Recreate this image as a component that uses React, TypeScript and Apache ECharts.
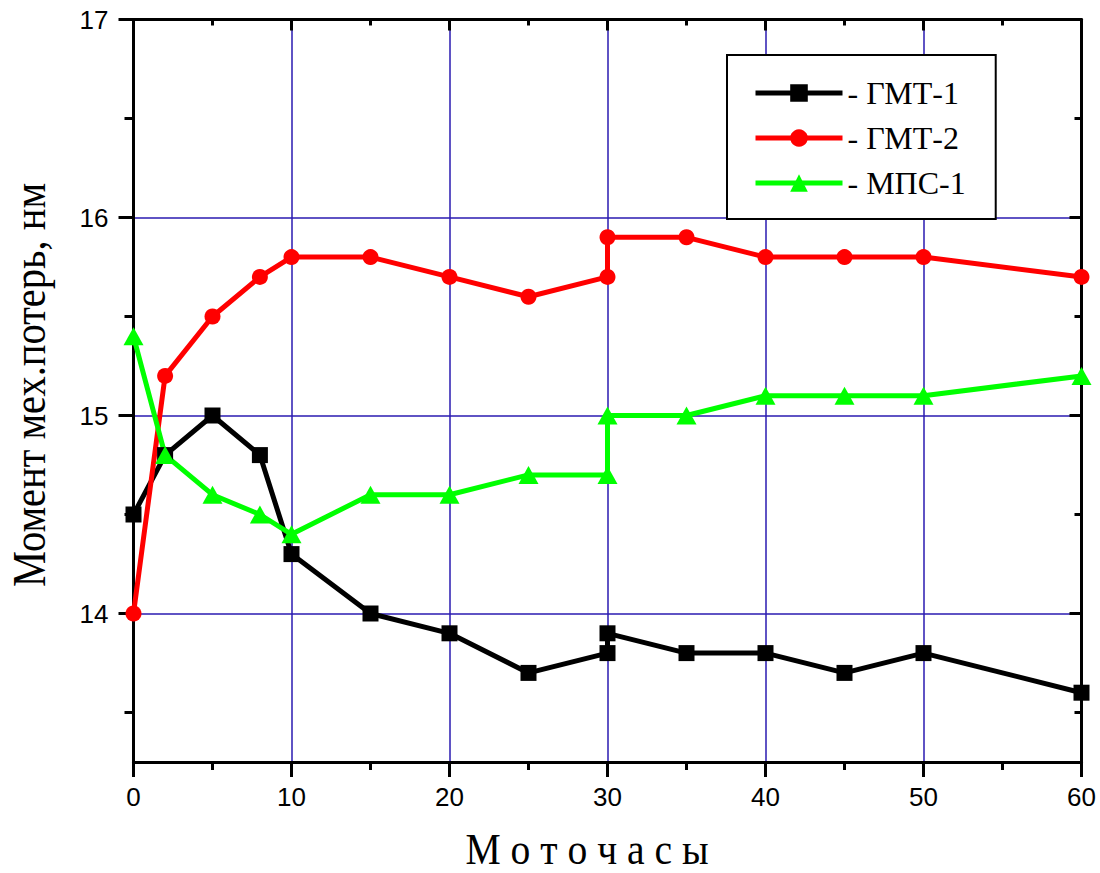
import React, { useEffect, useRef } from "react";
import * as echarts from "echarts";

const hours = [0, 2, 5, 8, 10, 15, 20, 25, 30, 30, 35, 40, 45, 50, 60];
const gmt1 = [14.5, 14.8, 15.0, 14.8, 14.3, 14.0, 13.9, 13.7, 13.8, 13.9, 13.8, 13.8, 13.7, 13.8, 13.6];
const gmt2 = [14.0, 15.2, 15.5, 15.7, 15.8, 15.8, 15.7, 15.6, 15.7, 15.9, 15.9, 15.8, 15.8, 15.8, 15.7];
const mps1 = [15.4, 14.8, 14.6, 14.5, 14.4, 14.6, 14.6, 14.7, 14.7, 15.0, 15.0, 15.1, 15.1, 15.1, 15.2];

const seriesNames = ["ГМТ-1", "ГМТ-2", "МПС-1"];
const yMajor = [14, 15, 16, 17];
const yMinor = [13.5, 14.5, 15.5, 16.5];
const xTitle = "М о т о ч а с ы";
const yTitle = "Момент мех.потерь, нм";

const pairs = (ys: number[]) => hours.map((h, i) => [h, ys[i]]);

export default function App() {
  const ref = useRef<HTMLDivElement>(null);
  useEffect(() => {
    const chart = echarts.init(ref.current!, null, { renderer: "svg" });
    const black = "#000";
    const grid = "#2a1ab0";
    const axisBase = {
      type: "value" as const,
      axisLine: { show: true, onZero: false, lineStyle: { color: black, width: 3 } },
    };
    const xCommon = { ...axisBase, min: 0, max: 60, interval: 10 };
    const yCommon = { ...axisBase, min: 13.25, max: 17 };
    chart.setOption({
      animation: false,
      backgroundColor: "#fff",
      grid: { left: 133.5, right: 18.5, top: 19.5, bottom: 111, outerBoundsMode: "none" },
      xAxis: [
        {
          ...xCommon,
          position: "bottom",
          axisTick: { show: true, length: 15, lineStyle: { color: black, width: 3 } },
          minorTick: { show: true, splitNumber: 2, length: 8, lineStyle: { color: black, width: 3 } },
          axisLabel: { fontSize: 26, fontFamily: "Liberation Sans", color: black, margin: 22 },
          splitLine: { show: true, lineStyle: { color: grid, width: 1.5 } },
        },
        {
          ...xCommon,
          position: "top",
          axisTick: { show: true, inside: true, length: 11, lineStyle: { color: black, width: 3 } },
          minorTick: { show: true, splitNumber: 2, length: 6, lineStyle: { color: black, width: 3 } },
          axisLabel: { show: false },
          splitLine: { show: false },
        },
      ],
      yAxis: [
        {
          ...yCommon,
          position: "left",
          axisTick: { show: true, length: 15, customValues: yMajor, lineStyle: { color: black, width: 3 } },
          axisLabel: { customValues: yMajor, fontSize: 26, fontFamily: "Liberation Sans", color: black, margin: 25 },
          splitLine: { show: true, lineStyle: { color: grid, width: 1.5 } },
        },
        {
          ...yCommon,
          position: "left",
          axisLine: { show: false, onZero: false },
          axisTick: { show: true, length: 9, customValues: yMinor, lineStyle: { color: black, width: 3 } },
          axisLabel: { show: false },
          splitLine: { show: false },
        },
        {
          ...yCommon,
          position: "right",
          axisTick: { show: true, inside: true, length: 12, customValues: yMajor, lineStyle: { color: black, width: 3 } },
          axisLabel: { show: false },
          splitLine: { show: false },
        },
        {
          ...yCommon,
          position: "right",
          axisLine: { show: false, onZero: false },
          axisTick: { show: true, inside: true, length: 7, customValues: yMinor, lineStyle: { color: black, width: 3 } },
          axisLabel: { show: false },
          splitLine: { show: false },
        },
      ],
      legend: {
        orient: "vertical",
        left: 727,
        top: 55,
        itemWidth: 87,
        itemHeight: 22,
        itemGap: 13,
        padding: [22, 30, 20, 26],
        backgroundColor: "#fff",
        borderColor: black,
        borderWidth: 2,
        borderRadius: 0,
        lineStyle: { width: 5 },
        formatter: (n: string) => "- " + n,
        textStyle: { fontFamily: "Liberation Serif", fontSize: 32, color: black, lineHeight: 32 },
        data: seriesNames,
      },
      graphic: [
        {
          type: "text",
          x: 587,
          y: 849,
          scaleX: 0.9,
          style: {
            text: xTitle,
            font: "44px 'Liberation Serif'",
            fill: black,
            textAlign: "center",
            textVerticalAlign: "middle",
          },
        },
        {
          type: "text",
          x: 29,
          y: 385,
          rotation: Math.PI / 2,
          scaleX: 0.88,
          style: {
            text: yTitle,
            font: "46px 'Liberation Serif'",
            fill: black,
            textAlign: "center",
            textVerticalAlign: "middle",
          },
        },
      ],
      series: [
        {
          name: seriesNames[0],
          type: "line",
          data: pairs(gmt1),
          symbol: "rect",
          symbolSize: 16,
          lineStyle: { color: "#000", width: 5 },
          itemStyle: { color: "#000" },
        },
        {
          name: seriesNames[1],
          type: "line",
          data: pairs(gmt2),
          symbol: "circle",
          symbolSize: 16,
          lineStyle: { color: "#ff0000", width: 5 },
          itemStyle: { color: "#ff0000" },
        },
        {
          name: seriesNames[2],
          type: "line",
          data: pairs(mps1),
          symbol: "triangle",
          symbolSize: [20, 18],
          lineStyle: { color: "#00ff00", width: 5 },
          itemStyle: { color: "#00ff00" },
        },
      ],
    });
    return () => chart.dispose();
  }, []);
  return (
    <div
      ref={ref}
      style={{ position: "fixed", left: 0, top: 0, width: 1100, height: 873, background: "#fff" }}
    />
  );
}
